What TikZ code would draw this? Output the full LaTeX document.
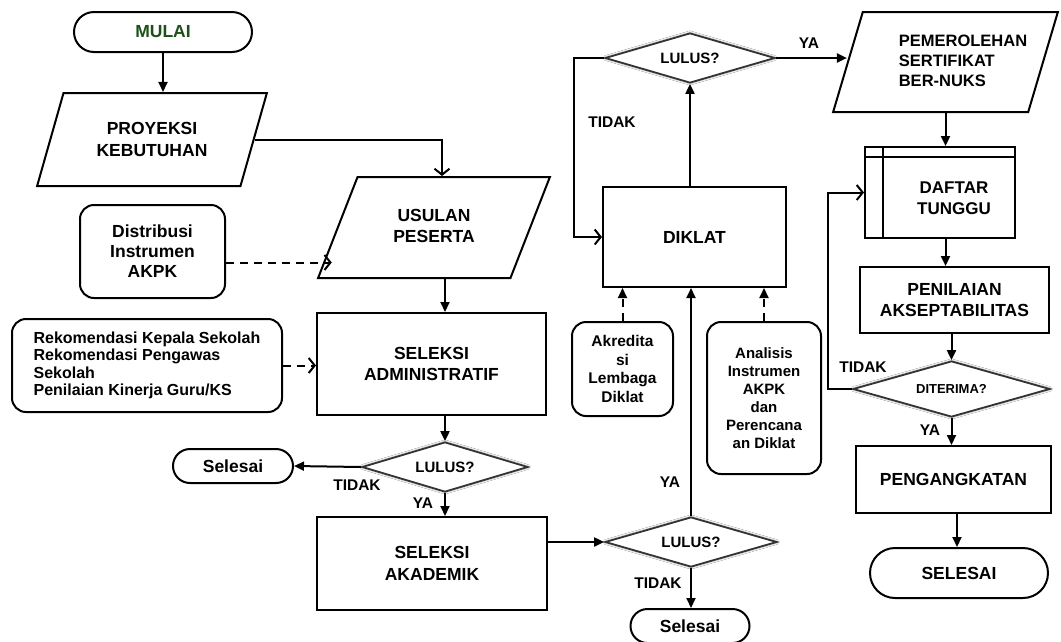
\documentclass[tikz,border=0pt]{standalone}
\usepackage{fontspec}
\setmainfont{Liberation Sans}
\usetikzlibrary{shapes.geometric,shapes.misc,arrows.meta,calc,shadows.blur}
\definecolor{startgreen}{RGB}{30,80,25}
\tikzset{
  base/.style={draw=black, line width=2pt, inner sep=0pt, align=center, font=\bfseries\fontsize{17.5}{21.5}\selectfont},
  procbox/.style={base, rectangle, minimum width=#1},
  termbox/.style={base, rounded rectangle},
  softbox/.style={base, rectangle, rounded corners=14pt},
  iobox/.style={base, trapezium, trapezium left angle=64, trapezium right angle=116, trapezium stretches=true},
  decbox/.style={base, diamond, draw=black!80, line width=1.8pt, fill=white, aspect=3.4,
     blur shadow={shadow xshift=0pt, shadow yshift=0pt, shadow blur radius=2.5pt, shadow opacity=60},
     font=\bfseries\fontsize{15}{18}\selectfont},
  lbl/.style={font=\bfseries\fontsize{15.5}{18}\selectfont, inner sep=0pt},
  arr/.style={line width=2pt, -{Triangle[length=10pt,width=9pt]}},
  openarr/.style={line width=2pt, -{Straight Barb[length=6pt,width=15pt,line width=2pt]}},
  dsh/.style={dash pattern=on 8pt off 6pt},
}
\begin{document}
\begin{tikzpicture}[x=1pt,y=-1pt]
\useasboundingbox[fill=white] (0,0) rectangle (1061,641);

% ---- left column ----
\node[termbox, minimum width=178pt, minimum height=40pt, font=\bfseries\fontsize{17.5}{21}\selectfont\color{startgreen}] (mulai) at (163,32) {MULAI};
\node[iobox, minimum width=230pt, minimum height=93pt] (proyeksi) at (152,139.5) {PROYEKSI\\KEBUTUHAN};
\node[iobox, minimum width=232pt, minimum height=101pt] (usulan) at (434,227.5) {\raisebox{6pt}{\begin{tabular}{@{}c@{}}USULAN\\PESERTA\end{tabular}}};
\node[softbox, minimum width=145pt, minimum height=93pt, font=\bfseries\fontsize{17.5}{20}\selectfont] (distribusi) at (152.5,251.5) {Distribusi\\Instrumen\\AKPK};
\node[softbox, minimum width=270pt, minimum height=93pt, align=left, font=\bfseries\fontsize{16}{17.5}\selectfont] (rekom) at (147,365.5) {Rekomendasi Kepala Sekolah\\Rekomendasi Pengawas\\Sekolah\\Penilaian Kinerja Guru/KS};
\node[procbox=229pt, minimum height=102pt] (admin) at (431.5,364) {SELEKSI\\ADMINISTRATIF};
\node[decbox, minimum width=166pt, minimum height=50pt] (d1) at (445,467) {LULUS?};
\node[termbox, minimum width=120pt, minimum height=34pt] (selesai1) at (233,466) {Selesai};
\node[procbox=230pt, minimum height=93pt] (akademik) at (432,563.5) {SELEKSI\\AKADEMIK};

% ---- middle column ----
\node[decbox, minimum width=172pt, minimum height=50pt] (d2) at (691,542) {LULUS?};
\node[termbox, minimum width=119pt, minimum height=34pt] (selesai2) at (690,626) {Selesai};
\node[procbox=183pt, minimum height=100pt] (diklat) at (694.5,237) {DIKLAT};
\node[decbox, minimum width=170pt, minimum height=50pt] (d3) at (690,58) {LULUS?};
\node[softbox, minimum width=101pt, minimum height=94pt, font=\bfseries\fontsize{15.5}{18.5}\selectfont] (akred) at (622.5,369) {Akredita\\si\\Lembaga\\Diklat};
\node[softbox, minimum width=114pt, minimum height=152pt, font=\bfseries\fontsize{15}{18}\selectfont] (analisis) at (764,398) {Analisis\\Instrumen\\AKPK\\dan\\Perencana\\an Diklat};

% ---- right column ----
\node[iobox, minimum width=225pt, minimum height=100pt, font=\bfseries\fontsize{16.5}{20}\selectfont] (pem) at (945.5,62) {\begin{tabular}{@{\hspace{35pt}}l@{}}PEMEROLEHAN\\SERTIFIKAT\\BER-NUKS\end{tabular}};
\node[procbox=150pt, minimum height=91pt] (daftar) at (940,192.5) {};
\draw[line width=2pt] ($(daftar.north west)+(0,11)$) -- ($(daftar.north east)+(0,11)$);
\draw[line width=2pt] ($(daftar.north west)+(19,0)$) -- ($(daftar.south west)+(19,0)$);
\node[font=\bfseries\fontsize{17}{21}\selectfont, align=center, inner sep=0pt] (daftartext) at (954,198) {DAFTAR\\TUNGGU};
\node[procbox=189pt, minimum height=66pt] (penilaian) at (954.5,300) {PENILAIAN\\AKSEPTABILITAS};
\node[decbox, minimum width=197pt, minimum height=56pt, font=\bfseries\fontsize{13}{16}\selectfont] (d4) at (951.5,389) {DITERIMA?};
\node[procbox=195pt, minimum height=67pt] (peng) at (953.5,479.5) {PENGANGKATAN};
\node[termbox, minimum width=178pt, minimum height=50pt] (selesai3) at (959,573) {SELESAI};

% ---- connectors ----
\draw[arr] (mulai.south) -- (mulai.south |- proyeksi.north);
\draw[openarr] (proyeksi.east) -| ([xshift=8pt]usulan.north);
\draw[openarr, dsh] ([yshift=-11pt]distribusi.east) -- ([xshift=-5pt,yshift=-11pt]distribusi.east -| usulan.west);
\draw[openarr, dsh] (rekom.east) -- (rekom.east -| admin.west);
\draw[arr] (usulan.south -| d1.north) -- (admin.north -| d1.north);
\draw[arr] (admin.south -| d1.north) -- (d1.north);
\draw[arr] (d1.west) -- (selesai1.east);
\draw[arr] (d1.south) -- (d1.south |- akademik.north);
\draw[arr] (akademik.east |- d2.west) -- (d2.west);
\draw[arr] (d2.north) -- (d2.north |- diklat.south);
\draw[arr] (d2.south) -- (d2.south |- selesai2.north);
\draw[arr] (diklat.north -| d3.south) -- (d3.south);
\draw[openarr] (d3.west) -- ++(-30,0) |- (diklat.west);
\draw[arr] (d3.east) -- (d3.east -| pem.west);
\draw[arr, dsh] (akred.north) -- (akred.north |- diklat.south);
\draw[arr, dsh] (analisis.north) -- (analisis.north |- diklat.south);
\draw[arr] (pem.south) -- (pem.south |- daftar.north);
\draw[arr] (daftar.south -| pem.south) -- (penilaian.north -| pem.south);
\draw[arr] (penilaian.south -| d4.north) -- (d4.north);
\draw[arr] (d4.south) -- (d4.south |- peng.north);
\draw[arr] ([xshift=-2pt]peng.south -| selesai3.north) -- ([xshift=-2pt]selesai3.north);
\draw[openarr] (d4.west) -- ++(-24,0) |- (daftar.west);

% ---- labels ----
\node[lbl] (t1) at (357,485) {TIDAK};
\node[lbl] (y1) at (423,503) {YA};
\node[lbl] (y2) at (670,482) {YA};
\node[lbl] (t2) at (658,583) {TIDAK};
\node[lbl] (t3) at (612,122) {TIDAK};
\node[lbl] (y3) at (809,43) {YA};
\node[lbl] (t4) at (863,367) {TIDAK};
\node[lbl] (y4) at (930,430) {YA};
\end{tikzpicture}
\end{document}
